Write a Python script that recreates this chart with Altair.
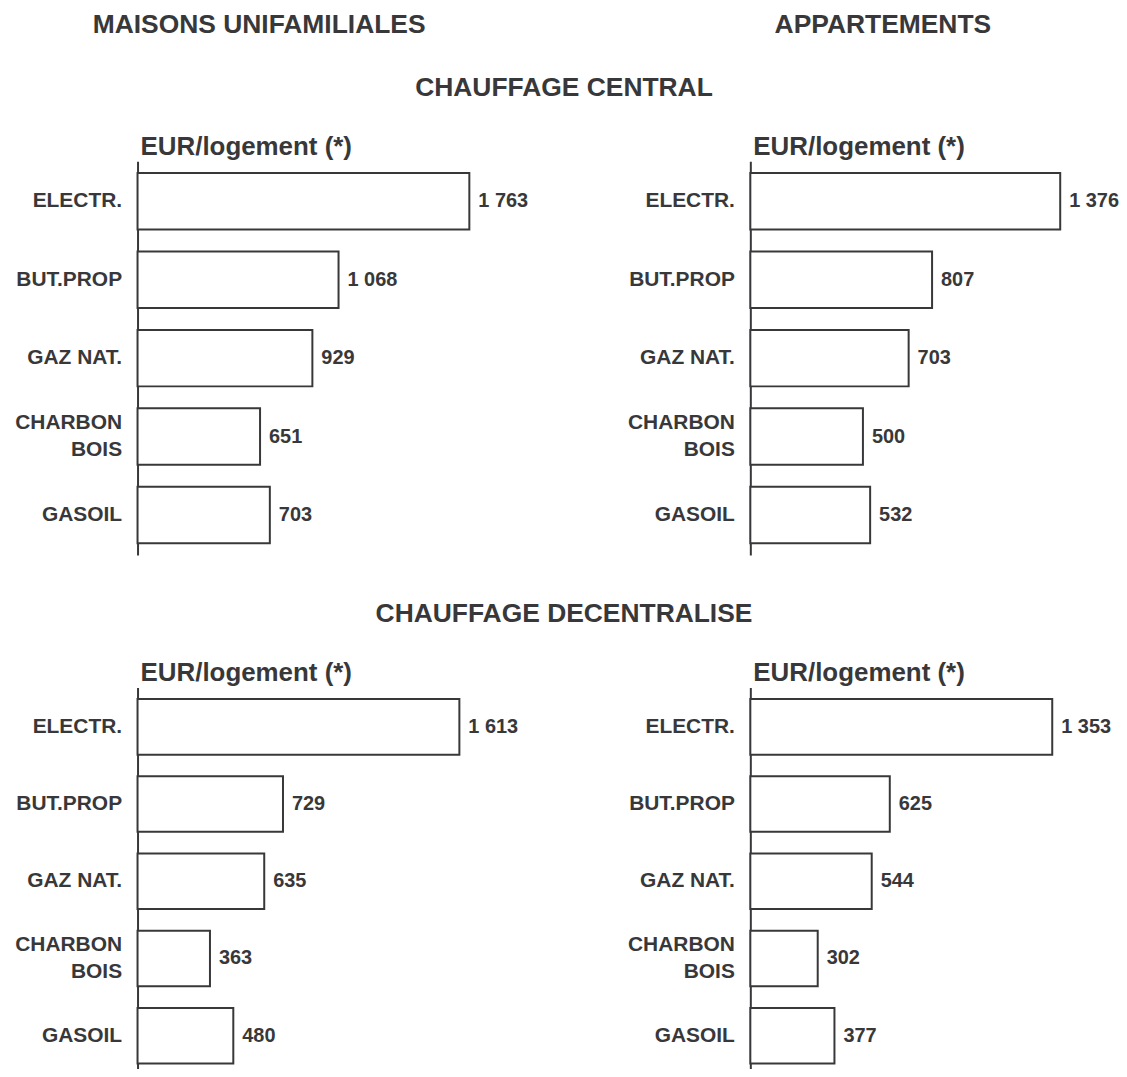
import altair as alt
import pandas as pd

# ---- data ----
categories = ["ELECTR.", "BUT.PROP", "GAZ NAT.", "CHARBON\nBOIS", "GASOIL"]
maisons_central = [1763, 1068, 929, 651, 703]
appart_central = [1376, 807, 703, 500, 532]
maisons_decentral = [1613, 729, 635, 363, 480]
appart_decentral = [1353, 625, 544, 302, 377]
headers = ["MAISONS UNIFAMILIALES", "APPARTEMENTS"]
section_titles = ["CHAUFFAGE CENTRAL", "CHAUFFAGE DECENTRALISE"]
unit_title = "EUR/logement (*)"

FONT = "Liberation Sans"
INK = "#38383a"


def fmt(v):
    return f"{v:,}".replace(",", " ")


def panel(values, width, height):
    df = pd.DataFrame({"cat": categories, "val": values,
                       "lab": [fmt(v) for v in values]})
    y = alt.Y("cat:N", sort=None,
              scale=alt.Scale(domain=categories, paddingInner=0.28, paddingOuter=0.15),
              axis=alt.Axis(title=None, ticks=False, grid=False, domain=True,
                            domainColor=INK, domainWidth=2,
                            labelFont=FONT, labelFontSize=21, labelFontWeight="bold",
                            labelColor=INK, labelPadding=16, labelLineHeight=28,
                            labelOffset={"condition": {"test": "indexof(datum.value, '\\n') >= 0",
                                                       "value": -14},
                                         "value": 0},
                            labelExpr="split(datum.label, '\\n')"))
    x = alt.X("val:Q", scale=alt.Scale(domain=[0, max(values)], nice=False, zero=True),
              axis=None)
    base = alt.Chart(df)
    bars = base.mark_bar(fill="white", stroke=INK, strokeWidth=2).encode(x=x, y=y)
    texts = base.mark_text(align="left", baseline="middle", dx=9, font=FONT,
                           fontSize=20, fontWeight="bold", color=INK).encode(
        x=x, y=y, text="lab:N")
    return alt.layer(bars, texts).properties(
        width=width, height=height,
        title=alt.TitleParams(unit_title, anchor="start", frame="group", font=FONT,
                              fontSize=26, fontWeight="bold", color=INK, offset=1, dx=3))


def text_cell(text, width, height, dx=0, dy=0):
    return alt.Chart(pd.DataFrame({"t": [text]})).mark_text(
        font=FONT, fontSize=26.5, fontWeight="bold", color=INK, baseline="middle",
        align="center", dx=dx, dy=dy).encode(text="t:N").properties(
        width=width, height=height)


cells = [
    text_cell(headers[0], 333, 26, dx=-44.5, dy=-2),
    text_cell(headers[1], 311, 26, dx=-22.5, dy=-2),
    text_cell(section_titles[0], 333, 122, dx=261.5, dy=-13),
    text_cell("", 311, 122),
    panel(maisons_central, 333, 395),
    panel(appart_central, 311, 395),
    text_cell(section_titles[1], 333, 133, dx=261.5, dy=-7.5),
    text_cell("", 311, 133),
    panel(maisons_decentral, 323, 389),
    panel(appart_decentral, 303, 389),
]

chart = alt.concat(*cells, columns=2, spacing={"row": 0, "column": 282},
                   bounds="flush").properties(
    autosize=alt.AutoSizeParams(type="none"),
    padding={"left": 130, "top": 4, "right": 985, "bottom": 1057},
).configure_view(stroke=None)

chart.save("out.html", embed_options={"renderer": "svg", "actions": False})
